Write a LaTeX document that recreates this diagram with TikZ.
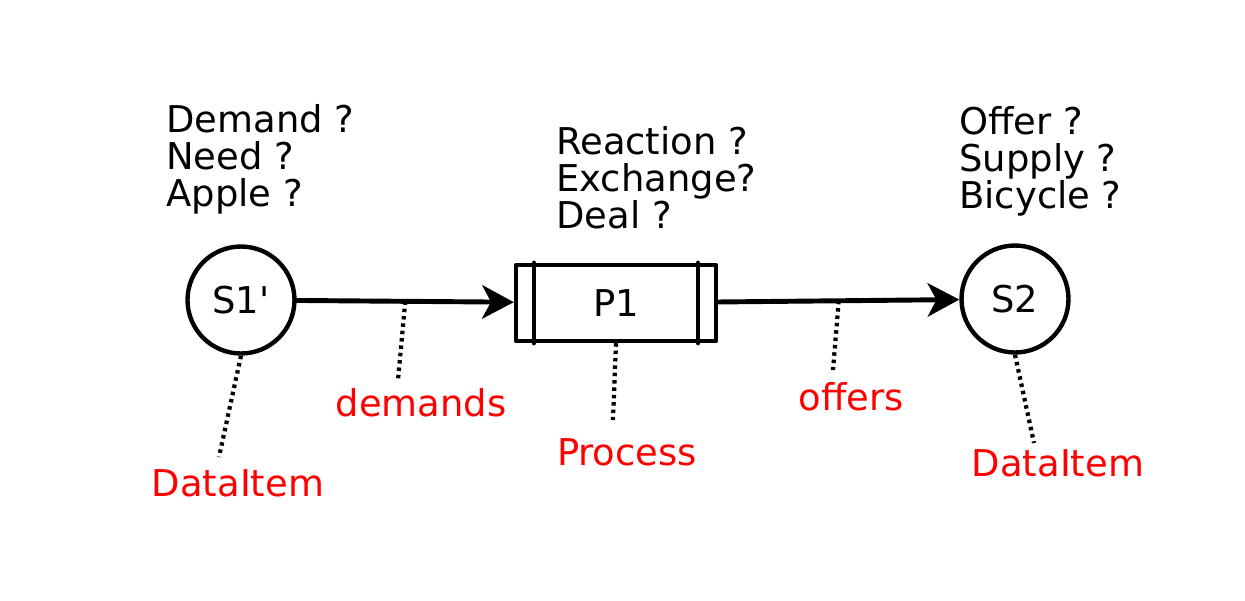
\documentclass[tikz,border=0pt]{standalone}
\usepackage{fontspec}
\setmainfont{DejaVu Sans}
\usetikzlibrary{arrows.meta, calc}

\begin{document}
\begin{tikzpicture}[line cap=round,line join=round,>={Stealth[length=18pt,width=19pt,inset=5pt]},x=.02cm,y=-.02cm,
        font=\fontsize{21pt}{21pt}\selectfont,
        state/.style={draw,circle,line width=2.5pt,minimum size=2.14cm,inner sep=0pt},
        proc/.style={draw,rectangle,line width=2.5pt,minimum width=4cm,minimum height=1.52cm,inner sep=0pt},
        flow/.style={->,line width=2.8pt},
        link/.style={line width=2.4pt,line cap=butt,dash pattern=on 2pt off 2.2pt},
        tag/.style={text=red,inner sep=0pt},
        note/.style={align=left,anchor=north west,inner sep=0pt}]
        \useasboundingbox (0,0) rectangle (1245,600);
        \node [state] (S1) at (241,300) {S1\textquotesingle};
        \node [proc] (P1) at (616,303) {P1};
        \node [state] (S2) at (1015,299) {S2};
        \draw [line width=2.5pt] ([xshift=.4cm]P1.north west) -- ([xshift=.4cm]P1.south west);
        \draw [line width=2.5pt] ([xshift=-.4cm]P1.north east) -- ([xshift=-.4cm]P1.south east);
        \draw [flow] (S1) -- coordinate[pos=.5] (m1) (P1);
        \draw [flow] (P1) -- coordinate[pos=.5] (m2) (S2);
        \coordinate (e0) at (219,457);
        \coordinate (e1) at (398,380);
        \coordinate (e2) at (613,420);
        \coordinate (e3) at (833,370);
        \coordinate (e4) at (1034,443);
        \draw [link] (S1.south) -- (e0);
        \draw [link] (m1) -- (e1);
        \draw [link] (P1.south) -- (e2);
        \draw [link] (m2) -- (e3);
        \draw [link] (S2.south) -- (e4);
        \node [tag] (item1) at (238,483) {DataItem};
        \node [tag] (demands) at (421,403) {demands};
        \node [tag] (process) at (627,452) {Process};
        \node [tag] (offers) at (851,397) {offers};
        \node [tag] (item2) at (1058,463) {DataItem};
        \node [note] (need) at (166,104) {Demand ?\\Need ?\\Apple ?};
        \node [note] (deal) at (556,126) {Reaction ?\\Exchange?\\Deal ?};
        \node [note] (supply) at (959,106) {Offer ?\\Supply ?\\Bicycle ?};
\end{tikzpicture}
\end{document}
